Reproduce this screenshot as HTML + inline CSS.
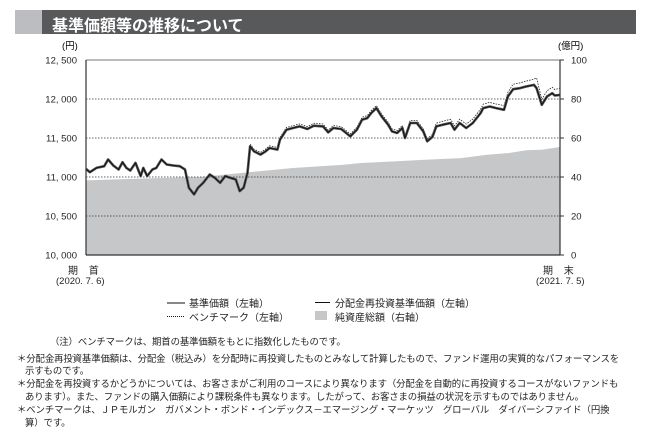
<!DOCTYPE html>
<html><head><meta charset="utf-8"><style>
body{margin:0;width:653px;height:428px;background:#fff;font-family:"Liberation Sans","Noto Sans CJK JP",sans-serif;color:#231f20;overflow:hidden;position:relative}
.t{position:absolute;white-space:nowrap}
.note{position:absolute;font-size:9.4px;left:28px;white-space:nowrap;letter-spacing:-0.1px}
</style></head><body>
<div style="position:absolute;left:15px;top:10px;width:621px;height:24px;background:#58595b"></div>
<div style="position:absolute;left:15px;top:10px;width:27px;height:24px;background:#bcbdc0"></div>
<div class="t" style="left:52px;top:12px;font-size:16px;font-weight:bold;color:#fff">基準価額等の推移について</div>
<svg id="chart" width="653" height="300" style="position:absolute;left:0;top:0" font-family="Liberation Sans, Noto Sans CJK JP, sans-serif"></svg>
<div class="t" style="left:68px;top:262px;font-size:10px;letter-spacing:4px">期 首</div>
<div class="t" style="left:56px;top:276px;font-size:9.5px">(2020. 7. 6)</div>
<div class="t" style="left:543px;top:262px;font-size:10px;letter-spacing:4px">期 末</div>
<div class="t" style="left:536px;top:276px;font-size:9.5px">(2021. 7. 5)</div>
<div>
<div style="position:absolute;left:167px;top:302px;width:18px;height:2px;background:#888"></div>
<div class="t" style="left:189px;top:295px;font-size:10px">基準価額（左軸）</div>
<div style="position:absolute;left:315px;top:302px;width:15px;height:1px;background:#111"></div>
<div class="t" style="left:335px;top:295px;font-size:10px">分配金再投資基準価額（左軸）</div>
<div style="position:absolute;left:167px;top:316px;width:17px;height:0;border-top:1px dotted #111"></div>
<div class="t" style="left:189px;top:309px;font-size:10px">ベンチマーク（左軸）</div>
<div style="position:absolute;left:315px;top:311px;width:12px;height:9px;background:#c6c7c9"></div>
<div class="t" style="left:335px;top:309px;font-size:10px">純資産総額（右軸）</div>
</div>
<div class="note" style="left:50px;top:334px">（注）ベンチマークは、期首の基準価額をもとに指数化したものです。</div>
<div class="note" style="left:17px;top:351px">＊分配金再投資基準価額は、分配金（税込み）を分配時に再投資したものとみなして計算したもので、ファンド運用の実質的なパフォーマンスを</div>
<div class="note" style="left:25px;top:363px">示すものです。</div>
<div class="note" style="left:17px;top:376px">＊分配金を再投資するかどうかについては、お客さまがご利用のコースにより異なります（分配金を自動的に再投資するコースがないファンドも</div>
<div class="note" style="left:25px;top:389px">あります）。また、ファンドの購入価額により課税条件も異なります。したがって、お客さまの損益の状況を示すものではありません。</div>
<div class="note" style="left:17px;top:402px">＊ベンチマークは、ＪＰモルガン　ガバメント・ボンド・インデックス－エマージング・マーケッツ　グローバル　ダイバーシファイド（円換</div>
<div class="note" style="left:25px;top:415px">算）です。</div>
<script>
const days=[0,3,8,14,17,21,25,28,31,34,38,42,44,47,51,54,58,62,67,72,76,79,83,86,90,95,99,103,107,111,115,118,121,124,126,129,134,138,141,147,149,154,159,164,170,175,182,186,190,196,203,208,212,216,219,223,227,232,235,239,243,245,249,254,259,262,266,269,274,280,283,287,292,297,303,305,310,315,321,324,328,333,338,344,346,350,354,358,360,364];
const nav=[11104,11062,11117,11138,11224,11147,11096,11190,11117,11083,11181,11011,11117,11011,11096,11117,11224,11160,11147,11138,11096,10862,10777,10862,10926,11032,10989,10926,11011,10989,10968,10819,10862,11053,11394,11330,11287,11330,11372,11351,11479,11606,11628,11649,11615,11658,11649,11572,11628,11615,11521,11606,11734,11755,11819,11883,11777,11670,11585,11564,11628,11500,11692,11692,11585,11458,11513,11649,11670,11692,11606,11692,11628,11692,11819,11883,11904,11883,11862,12032,12126,12138,12160,12181,12138,11926,12032,12074,12045,12053];
const reinv=[11104,11062,11117,11138,11224,11147,11096,11190,11117,11083,11181,11011,11117,11011,11096,11117,11224,11160,11147,11138,11096,10862,10777,10862,10926,11032,10989,10926,11011,10989,10968,10819,10862,11053,11394,11330,11287,11330,11372,11351,11479,11606,11628,11649,11615,11658,11649,11572,11628,11615,11521,11606,11734,11755,11819,11883,11777,11670,11585,11564,11628,11500,11692,11692,11585,11458,11513,11649,11670,11692,11606,11692,11628,11692,11819,11883,11904,11883,11862,12032,12126,12138,12160,12181,12138,11926,12032,12074,12045,12053];
const bench=[11110,11068,11123,11144,11230,11153,11102,11196,11123,11089,11187,11017,11123,11017,11102,11123,11230,11166,11153,11144,11102,10868,10785,10870,10934,11040,10997,10934,11019,10997,10976,10827,10872,11070,11420,11358,11315,11358,11400,11380,11508,11636,11658,11680,11646,11689,11680,11603,11659,11646,11552,11637,11766,11787,11851,11915,11809,11702,11617,11596,11660,11532,11725,11725,11618,11491,11546,11690,11715,11740,11655,11741,11678,11742,11870,11935,11956,11936,11915,12086,12190,12205,12230,12255,12270,11995,12105,12150,12120,12140];
const assetDays=[0,44,88,124,159,198,211,237,262,288,308,325,338,350,364];
const assets=[38.3,39.2,40,42.4,44.6,46.3,47.2,48,48.9,49.7,51.4,52.3,53.7,54,55.4];
const leftTicks=[10000,10500,11000,11500,12000,12500];
const leftTickLabels=["10, 000","10, 500","11, 000","11, 500","12, 000","12, 500"];
const rightTicks=[0,20,40,60,80,100];
const X0=86,X1=560,Y0=255,Y1=60;
const xs=d=>X0+(X1-X0)*d/364;
const yl=v=>Y0-(Y0-Y1)*(v-10000)/2500;
const yr=v=>Y0-(Y0-Y1)*v/100;
const svg=document.getElementById('chart');
const NS='http://www.w3.org/2000/svg';
function mk(t,a){const e=document.createElementNS(NS,t);for(const k in a)e.setAttribute(k,a[k]);svg.appendChild(e);return e;}
// area
let p=`M${xs(assetDays[0])},${Y0}`;
assetDays.forEach((d,i)=>{p+=` L${xs(d)},${yr(assets[i])}`;});
p+=` L${xs(assetDays[assetDays.length-1])},${Y0} Z`;
const area=mk('path',{d:p,fill:'#c6c7c9'});


// grid
leftTicks.forEach((v,i)=>{
  if(i>0&&i<leftTicks.length-1){const g=mk('line',{x1:X0,x2:X1,y1:yl(v),y2:yl(v),stroke:'#333','stroke-width':0.8,'stroke-dasharray':'1.5,1.5'});
  
  }
  const t=mk('text',{x:77,y:yl(v)+3.5,'text-anchor':'end','font-size':9.5,fill:'#231f20'});t.textContent=leftTickLabels[i];
  
  
});
rightTicks.forEach(v=>{
  const t=mk('text',{x:571,y:yr(v)+3.5,'font-size':9.5,fill:'#231f20'});t.textContent=v;
  
  
  const tk=mk('line',{x1:X1,x2:X1+4,y1:yr(v),y2:yr(v),stroke:'#333','stroke-width':1});
  
  
});
function line(arr,attrs,name){
  const d=arr.map((v,i)=>(i?'L':'M')+xs(days[i]).toFixed(1)+','+yl(v).toFixed(1)).join(' ');
  const e=mk('path',Object.assign({d:d,fill:'none','stroke-linejoin':'round'},attrs));
  
  
}
line(bench,{stroke:'#222','stroke-width':0.8,'stroke-dasharray':'1.5,1.2'},'benchmark-line');
line(nav,{stroke:'#555','stroke-width':2.6},'nav-line');
line(reinv,{stroke:'#111','stroke-width':1},'reinvested-nav-line');
// frame
const f1=mk('line',{x1:X0,x2:X1,y1:Y1,y2:Y1,stroke:'#777','stroke-width':1});

const f2=mk('line',{x1:X0,x2:X1,y1:Y0,y2:Y0,stroke:'#333','stroke-width':1.2});

const f3=mk('line',{x1:X0,x2:X0,y1:Y1,y2:Y0,stroke:'#333','stroke-width':1.2});

const f4=mk('line',{x1:X1,x2:X1,y1:Y1,y2:Y0,stroke:'#333','stroke-width':1.2});

const u1=mk('text',{x:62,y:49,'font-size':9.5});u1.textContent='(円)';

const u2=mk('text',{x:558,y:49,'font-size':9.5});u2.textContent='(億円)';

</script>
</body></html>
